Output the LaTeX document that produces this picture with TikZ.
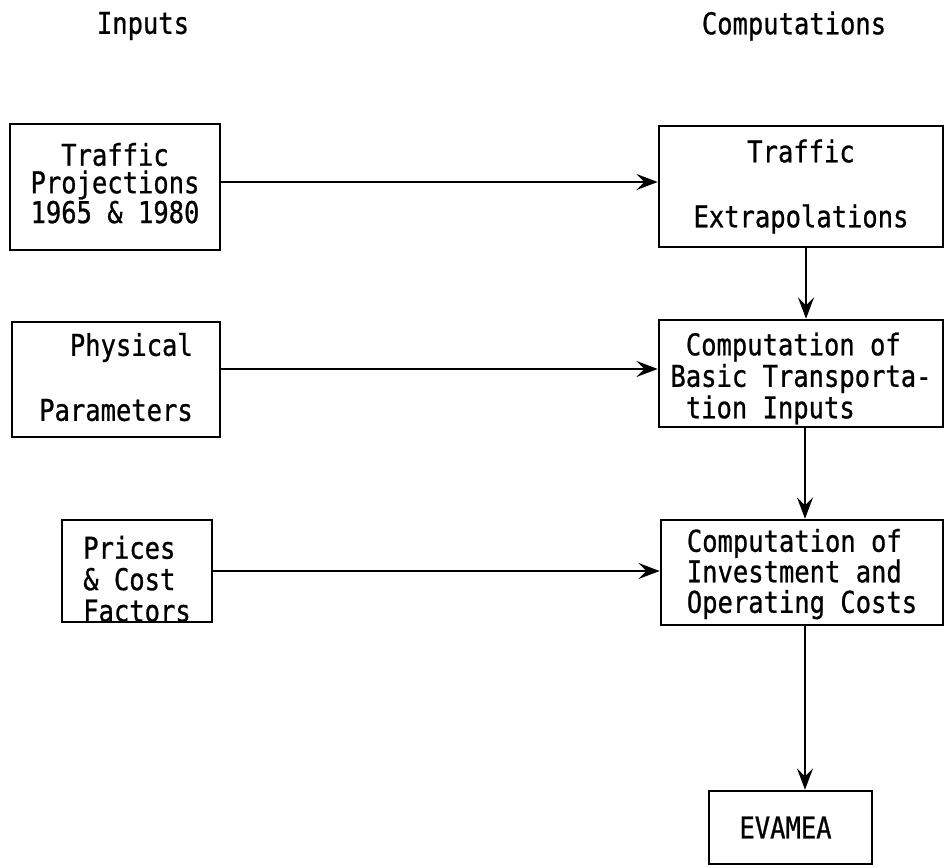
\documentclass[tikz,border=0pt]{standalone}
\usepackage{fontspec}
\usetikzlibrary{arrows.meta}
\newfontfamily\boxfont{DejaVu Sans Mono}[FakeStretch=0.85,FakeBold=0.8]
\begin{document}
\begin{tikzpicture}[x=0.75pt,y=-0.75pt,
  box/.style={draw, line width=1.9pt, rectangle, inner sep=0pt},
  bf/.style={font=\boxfont\fontsize{22.5}{#1}\selectfont},
  arr/.style={line width=1.7pt, -{Stealth[length=16pt,width=12pt,inset=6pt]}},
  head/.style={font=\boxfont\fontsize{22.5}{22}\selectfont, inner sep=0pt}]
\useasboundingbox (0,0) rectangle (947,868);

% column headings
\node[head] (inp) at (143,26) {Inputs};
\node[head] (comp) at (794,26) {Computations};

% input boxes
\node[box, bf=20.6pt, minimum width=157.5pt, minimum height=94.5pt, align=center]
  (A) at (115,187) {Traffic\\Projections\\1965 \& 1980\rule[-6pt]{0pt}{0pt}};
\node[box, bf=20.6pt, minimum width=156pt, minimum height=86.25pt, align=left]
  (P) at (116,379.5) {\hphantom{xx}Physical\\[26.65pt]Parameters\rule[-4pt]{0pt}{0pt}};
\node[box, bf=23.6pt, minimum width=112.5pt, minimum height=76.5pt, align=left]
  (Q) at (137,571) {\rule{0pt}{29pt}Prices\\\& Cost\\Factors};

% computation boxes
\node[box, bf=20.6pt, minimum width=213pt, minimum height=90.75pt, align=center]
  (B) at (801,186.5) {Traffic\\[28.15pt]Extrapolations};
\node[box, bf=23.6pt, minimum width=213pt, minimum height=80.25pt, align=left]
  (C) at (801,373.5) {\rule{0pt}{24.6pt}\hphantom{x}Computation of\\Basic Transporta-\\\hphantom{x}tion Inputs};
\node[box, bf=22.9pt, minimum width=211.5pt, minimum height=78.75pt, align=left]
  (D) at (802,572.5) {\rule{0pt}{19.5pt}Computation of\\Investment and\\Operating Costs};
\node[box, bf=20.6pt, minimum width=122.25pt, minimum height=54.75pt]
  (E) at (790.5,827.5) {EVAMEA\hspace*{7.5pt}};

% connectors
\draw[arr] ([yshift=3.75pt]A.east) -- ([yshift=3.75pt]A.east -| B.west);
\draw[arr] ([yshift=7.9pt]P.east) -- ([yshift=7.9pt]P.east -| C.west);
\draw[arr] (Q.east) -- (Q.east -| D.west);
\draw[arr] ([xshift=3.75pt]B.south) -- ([xshift=3.75pt]B.south |- C.north);
\draw[arr] ([xshift=3pt]C.south) -- ([xshift=3pt]C.south |- D.north);
\draw[arr] ([xshift=2.25pt]D.south) -- ([xshift=2.25pt]D.south |- E.north);
\end{tikzpicture}
\end{document}
